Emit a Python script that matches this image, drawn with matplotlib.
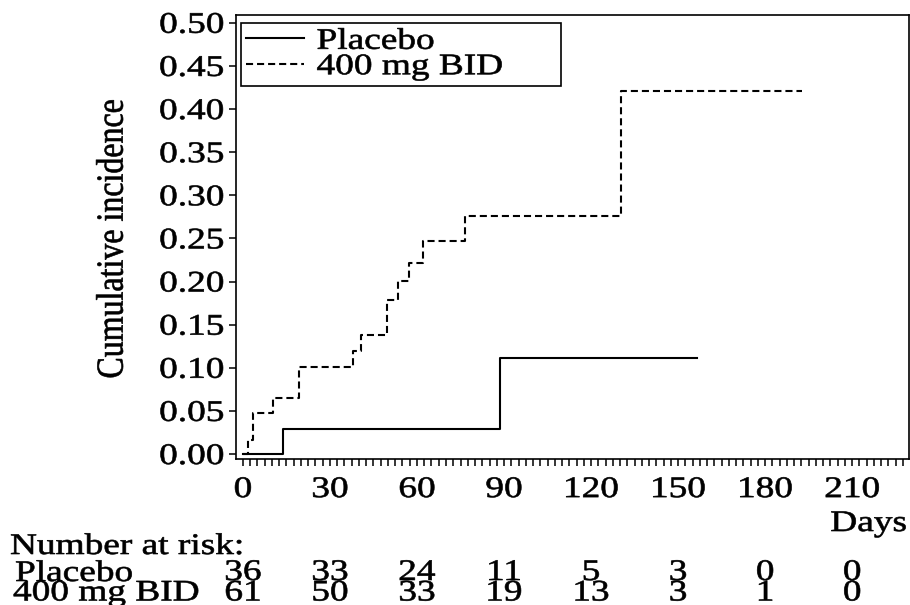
import numpy as np
import matplotlib
matplotlib.use('Agg')
import matplotlib.pyplot as plt
import matplotlib.patheffects as pe
from matplotlib.transforms import Affine2D, blended_transform_factory
from matplotlib.ticker import MultipleLocator

# cumulative incidence: day of each step and value after it
placebo_days = [0, 13.7, 88.6, 156.4]
placebo_cum = [0.0, 0.029, 0.111, 0.111]
bid_days = [0, 1.8, 3.6, 10.4, 19.4, 37.8, 40.6, 49.6, 53.6, 57.4, 62.2, 76.6, 130.3, 192.7]
bid_cum = [0.0, 0.016, 0.048, 0.065, 0.101, 0.120, 0.138, 0.179, 0.201, 0.222, 0.247, 0.276, 0.421, 0.421]

# number at risk
risk_days = [0, 30, 60, 90, 120, 150, 180, 210]
risk_placebo = [36, 33, 24, 11, 5, 3, 0, 0]
risk_bid = [61, 50, 33, 19, 13, 3, 1, 0]

groups = ['Placebo', '400 mg BID']

FS = 21.5
plt.rcParams['font.family'] = ['Liberation Serif', 'DejaVu Serif']
plt.rcParams['font.size'] = FS


class Widen(pe.AbstractPathEffect):
    """Draw text glyphs stretched (and slightly heavier), keeping the alignment point fixed."""

    def __init__(self, sx=1.0, sy=1.0, ha='left', stroke=0.45):
        super().__init__()
        self.sx, self.sy, self.ha, self.stroke = sx, sy, ha, stroke

    def draw_path(self, renderer, gc, tpath, affine, rgbFace=None):
        box = tpath.get_extents()
        cx = {'left': 0.0, 'center': box.x0 + box.width / 2, 'right': box.x1}[self.ha]
        cy = box.y0 + box.height / 2
        t = Affine2D().translate(-cx, -cy).scale(self.sx, self.sy).translate(cx, cy)
        gc0 = renderer.new_gc()
        gc0.copy_properties(gc)
        gc0.set_linewidth(self.stroke)
        gc0.set_foreground(rgbFace)
        renderer.draw_path(gc0, tpath, t + affine, rgbFace)
        gc0.restore()


SX = 1.25

fig = plt.figure(figsize=(9.1, 6.05), dpi=100)
fig.subplots_adjust(left=0.2593, right=0.9989, bottom=0.2413, top=0.9752)
ax = fig.add_subplot(111)

ax.step(placebo_days, placebo_cum, where='post', color='black', lw=1.5, label=groups[0])
ax.step(bid_days, bid_cum, where='post', color='black', lw=1.5,
        ls=(0, (3.4, 1.9)), label=groups[1])

ax.set_xlim(-2.4, 229.6)
ax.set_ylim(-0.0058, 0.509)
ax.set_xticks(risk_days)
ax.xaxis.set_minor_locator(MultipleLocator(2.5))
ax.set_yticks(np.arange(0, 0.501, 0.05))
ax.yaxis.set_major_formatter('{x:.2f}')
ax.tick_params(which='both', direction='out', length=5, width=1.1, color='black')
ax.tick_params(axis='x', pad=8)
ax.tick_params(axis='y', pad=3.6)
for s in ax.spines.values():
    s.set_linewidth(1.2)

for t in ax.get_xticklabels():
    t.set_path_effects([Widen(SX, ha='center')])
for t in ax.get_yticklabels():
    t.set_path_effects([Widen(SX, ha='right')])

leg = ax.legend(loc='upper left', bbox_to_anchor=(0.007, 0.983, 0.476, 0.0), mode='expand',
                borderaxespad=0, fancybox=False, edgecolor='black', framealpha=1,
                handlelength=1.93, handletextpad=0.43, borderpad=0.18, labelspacing=-0.05)
leg.get_frame().set_linewidth(1.2)
for t in leg.get_texts():
    t.set_path_effects([Widen(SX)])

fig.text(113 / 910, 1 - 238.5 / 605, 'Cumulative incidence', rotation=90, fontsize=23,
         ha='center', va='center', path_effects=[Widen(sy=1.2)])
fig.text(907 / 910, 1 - 531 / 605, 'Days', ha='right', va='baseline',
         path_effects=[Widen(SX, ha='right')])

# number at risk table under the axis
fig.text(10 / 910, 1 - 554 / 605, 'Number at risk:', va='baseline', path_effects=[Widen(SX)])
fig.text(15 / 910, 1 - 581 / 605, groups[0], va='baseline', path_effects=[Widen(SX)])
fig.text(13 / 910, 1 - 600.5 / 605, groups[1], va='baseline', path_effects=[Widen(SX)])

tr = blended_transform_factory(ax.transData, fig.transFigure)
for d, p, b in zip(risk_days, risk_placebo, risk_bid):
    ax.text(d, 1 - 580 / 605, str(p), transform=tr, ha='center', va='baseline',
            path_effects=[Widen(SX, ha='center')])
    ax.text(d, 1 - 600.5 / 605, str(b), transform=tr, ha='center', va='baseline',
            path_effects=[Widen(SX, ha='center')])

fig.savefig('out.png', dpi=100)
